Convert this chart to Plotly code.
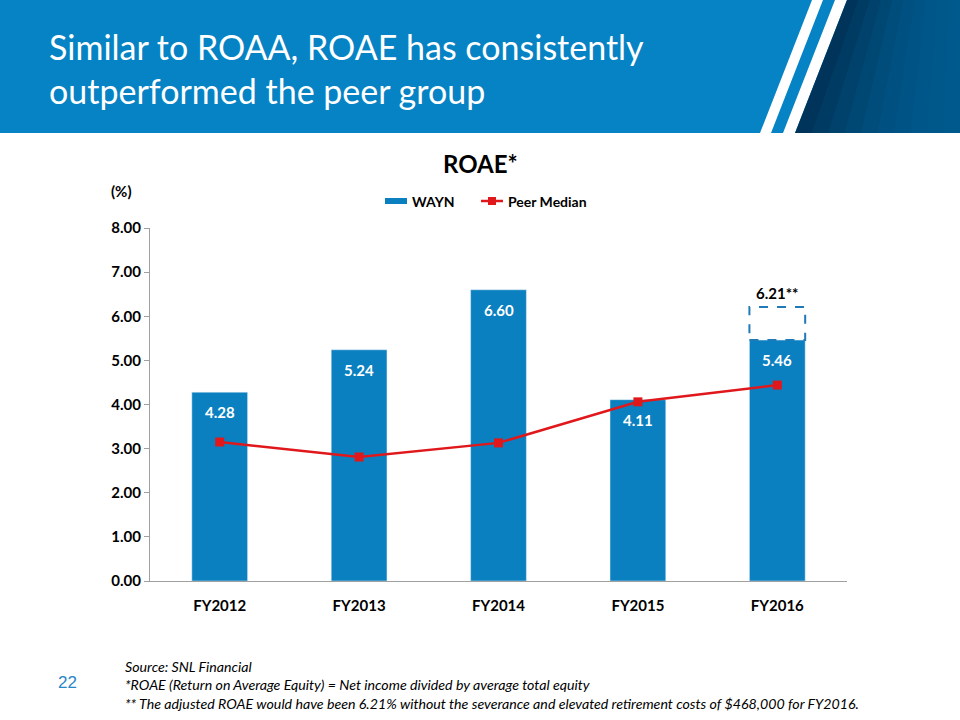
import plotly.graph_objects as go

categories = ["FY2012", "FY2013", "FY2014", "FY2015", "FY2016"]
wayn = [4.28, 5.24, 6.60, 4.11, 5.46]
peer_median = [3.15, 2.81, 3.13, 4.06, 4.44]
adjusted_fy2016 = 6.21
y_ticks = [0, 1, 2, 3, 4, 5, 6, 7, 8]
series_names = ["WAYN", "Peer Median"]

W, H = 960, 720
L, R, T, B = 150, 847, 228, 581

def px(x):
    return (x - L) / (R - L)

def py(y):
    return (B - y) / (B - T)

BLUE = "#0A80C0"
RED = "#E0181B"
FONT = "Lato"

fig = go.Figure()
fig.add_trace(go.Bar(
    x=categories, y=wayn, name=series_names[0], marker_color=BLUE, width=0.4,
))
fig.add_trace(go.Scatter(
    x=categories, y=peer_median, name=series_names[1], mode="lines+markers",
    line=dict(color=RED, width=2.5), marker=dict(symbol="square", size=9, color=RED),
))

shapes = []
# header band
shapes.append(dict(type="rect", xref="paper", yref="paper", x0=px(0), x1=px(960), y0=py(133), y1=py(0),
                   fillcolor="#0583C4", line_width=0, layer="below"))
def para(xt0, xt1, xb0, xb1, color):
    path = (f"M {px(xt0)} {py(0)} L {px(xt1)} {py(0)} L {px(xb1)} {py(133)} L {px(xb0)} {py(133)} Z")
    return dict(type="path", xref="paper", yref="paper", path=path, fillcolor=color, line_width=0, layer="below")
shapes.append(para(812, 823, 760, 771, "white"))
shapes.append(para(835, 847, 783, 795, "white"))
dark_cols = ["#00345A", "#003B63", "#00426C", "#004874", "#004D7B", "#005181", "#005485", "#005688", "#00588A", "#00598C"]
n = len(dark_cols)
for i, c in enumerate(dark_cols):
    a = 847 + (960 - 847) * i / n
    b2 = 847 + (960 - 847) * (i + 1) / n + 1
    ab = 795 + (960 - 795) * i / n
    bb = 795 + (960 - 795) * (i + 1) / n + 1
    shapes.append(para(a, min(b2, 960), ab, min(bb, 960), c))
# dashed box for adjusted value
shapes.append(dict(type="rect", xref="x", yref="y", x0=3.8, x1=4.2, y0=wayn[4], y1=adjusted_fy2016,
                   line=dict(color="#1F7AB8", width=2, dash="dash"), fillcolor="rgba(0,0,0,0)"))
# manual legend swatches
shapes.append(dict(type="rect", xref="paper", yref="paper", x0=px(385), x1=px(407), y0=py(204), y1=py(198),
                   fillcolor=BLUE, line_width=0))
shapes.append(dict(type="line", xref="paper", yref="paper", x0=px(481), x1=px(503), y0=py(201), y1=py(201),
                   line=dict(color=RED, width=2.5)))
shapes.append(dict(type="rect", xref="paper", yref="paper", x0=px(488), x1=px(496), y0=py(205), y1=py(197),
                   fillcolor=RED, line_width=0))

annotations = [
    dict(text="Similar to ROAA, ROAE has consistently<br>outperformed the peer group", xref="paper", yref="paper",
         x=px(47), y=py(69), xanchor="left", yanchor="middle", showarrow=False, align="left",
         font=dict(family=FONT, size=34, color="white")),
    dict(text="<b>ROAE*</b>", xref="paper", yref="paper", x=px(480), y=py(163), xanchor="center", yanchor="middle",
         showarrow=False, font=dict(family=FONT, size=24, color="black")),
    dict(text="<b>(%)</b>", xref="paper", yref="paper", x=px(121), y=py(191), xanchor="center", yanchor="middle",
         showarrow=False, font=dict(family=FONT, size=15, color="black")),
    dict(text=f"<b>{series_names[0]}</b>", xref="paper", yref="paper", x=px(410), y=py(201), xanchor="left",
         yanchor="middle", showarrow=False, font=dict(family=FONT, size=14, color="black")),
    dict(text=f"<b>{series_names[1]}</b>", xref="paper", yref="paper", x=px(506), y=py(201), xanchor="left",
         yanchor="middle", showarrow=False, font=dict(family=FONT, size=14, color="black")),
    dict(text=f"<b>{adjusted_fy2016:.2f}**</b>", xref="x", yref="y", x=categories[4], y=adjusted_fy2016,
         xanchor="center", yanchor="bottom", yshift=3, showarrow=False, font=dict(family=FONT, size=15, color="black")),
    dict(text="22", xref="paper", yref="paper", x=px(67), y=py(682), xanchor="center", yanchor="middle",
         showarrow=False, font=dict(family="Liberation Sans", size=17, color="#2A86C4")),
    dict(text="<i>Source: SNL Financial<br>*ROAE (Return on Average Equity) = Net income divided by average total equity<br>"
              "** The adjusted ROAE would have been 6.21% without the severance and elevated retirement costs of $468,000 for FY2016.</i>",
         xref="paper", yref="paper", x=px(123), y=py(656), xanchor="left", yanchor="top", showarrow=False, align="left",
         font=dict(family=FONT, size=14.2, color="black")),
]
for c, v in zip(categories, wayn):
    annotations.append(dict(text=f"<b>{v:.2f}</b>", xref="x", yref="y", x=c, y=v, xanchor="center", yanchor="top",
                            yshift=-9, showarrow=False, font=dict(family=FONT, size=15, color="white")))

fig.update_layout(
    width=W, height=H, margin=dict(l=L, r=W - R, t=T, b=H - B),
    paper_bgcolor="white", plot_bgcolor="white", shapes=shapes, annotations=annotations,
    showlegend=False, font=dict(family=FONT),
)
fig.update_yaxes(range=[0, 8], tickvals=y_ticks, ticktext=[f"<b>{v:.2f}</b>" for v in y_ticks],
                 showgrid=False, zeroline=False, showline=True, linecolor="#A0A0A0", linewidth=1,
                 ticks="outside", ticklen=5, tickcolor="#A0A0A0", tickfont=dict(size=15, color="black"))
fig.update_xaxes(tickvals=categories, ticktext=[f"<b>{c}</b>" for c in categories],
                 showgrid=False, showline=True, linecolor="#A0A0A0", linewidth=1, ticks="",
                 ticklabelstandoff=11, tickfont=dict(size=15, color="black"))

fig.write_html("out.html", config={"displayModeBar": False},
               post_script="document.body.style.margin='0';")
